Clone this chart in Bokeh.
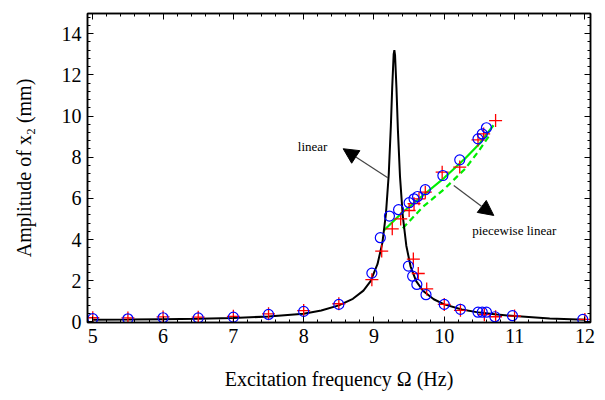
from bokeh.plotting import figure
from bokeh.models import Range1d, LinearAxis, SingleIntervalTicker, Arrow, NormalHead, Label
from bokeh.embed import file_html
from bokeh.resources import INLINE

# Linear model curve (black)
lin_x = [5.0, 5.5, 6.0, 6.5, 7.0, 7.5, 8.0, 8.25, 8.5, 8.7, 8.85, 8.95, 9.05, 9.12, 9.17,
         9.21, 9.24, 9.26, 9.28, 9.29, 9.30, 9.32, 9.34, 9.37, 9.41, 9.46, 9.52, 9.6, 9.7,
         9.85, 10.0, 10.25, 10.5, 10.75, 11.0, 11.5, 12.0]
lin_y = [0.10, 0.11, 0.13, 0.15, 0.19, 0.26, 0.40, 0.55, 0.80, 1.12, 1.52, 1.97, 2.80, 3.85, 5.25,
         7.16, 9.50, 11.45, 13.0, 13.2, 12.94, 11.35, 9.35, 7.07, 5.14, 3.70, 2.70, 1.98, 1.50,
         1.10, 0.85, 0.60, 0.45, 0.36, 0.28, 0.17, 0.10]

# Piecewise linear model, solid branch (green)
pw_solid_x = [9.14, 9.4, 9.7, 10.0, 10.3, 10.5, 10.7]
pw_solid_y = [4.44, 5.30, 6.15, 7.00, 7.95, 8.65, 9.55]

# Piecewise linear model, dashed branch (green)
pw_dash_x = [9.41, 9.7, 10.0, 10.3, 10.5, 10.63]
pw_dash_y = [4.55, 5.60, 6.45, 7.45, 8.35, 9.00]

# Measured data (blue circles)
circ_x = [5.0, 5.5, 6.0, 6.5, 7.0, 7.5, 8.0, 8.5, 8.97, 9.09, 9.22, 9.35, 9.5, 9.57, 9.62,
          9.73, 9.98, 10.22, 10.48, 10.54, 10.6,
          9.49, 9.55, 9.61, 9.74, 10.0, 10.23, 10.48, 10.54, 10.6, 10.72, 10.97, 11.97]
circ_y = [0.16, 0.15, 0.20, 0.19, 0.23, 0.36, 0.51, 0.85, 2.37, 4.09, 5.14, 5.45, 5.79, 5.98, 6.09,
          6.42, 7.11, 7.87, 8.89, 9.13, 9.43,
          2.71, 2.22, 1.82, 1.32, 0.85, 0.61, 0.47, 0.47, 0.47, 0.25, 0.30, 0.12]

# Measured data (red crosses)
cross_x = [5.0, 5.5, 6.0, 6.5, 7.0, 7.5, 8.0, 8.5, 8.97, 9.11, 9.26, 9.38, 9.5, 9.57, 9.64,
           9.73, 9.97, 10.22, 10.48, 10.56, 10.73,
           9.56, 9.63, 9.75, 10.0, 10.23, 10.57, 10.73, 11.0, 12.0]
cross_y = [0.20, 0.19, 0.24, 0.23, 0.27, 0.39, 0.55, 0.88, 2.05, 3.44, 4.52, 5.00, 5.41, 5.74, 5.98,
           6.30, 7.27, 7.52, 8.84, 9.13, 9.78,
           3.05, 2.35, 1.60, 0.85, 0.56, 0.35, 0.25, 0.28, 0.12]

x_ticks_interval = 1
y_ticks_interval = 2

FONT = "Liberation Serif"

p = figure(width=605, height=400, output_backend="svg", toolbar_location=None,
           x_range=Range1d(4.925, 12.08), y_range=Range1d(-0.03, 14.98),
           min_border_left=87, min_border_right=15, min_border_top=13, min_border_bottom=78)
p.grid.visible = False
p.outline_line_color = "black"
p.outline_line_width = 1.5
p.background_fill_color = "white"
p.border_fill_color = "white"

xt = SingleIntervalTicker(interval=x_ticks_interval, num_minor_ticks=5)
yt = SingleIntervalTicker(interval=y_ticks_interval, num_minor_ticks=5)


def style_axis(ax, labels=True):
    ax.axis_line_color = "black"
    ax.axis_line_width = 1.5
    ax.major_tick_in = 6
    ax.major_tick_out = 0
    ax.minor_tick_in = 3
    ax.minor_tick_out = 0
    ax.major_tick_line_color = "black"
    ax.minor_tick_line_color = "black"
    ax.major_label_text_font = FONT
    if labels:
        ax.major_label_text_color = "black"
        ax.major_label_text_font_size = "20px"
    else:
        ax.major_label_text_color = None
        ax.major_label_text_font_size = "0px"
        ax.major_label_standoff = 0


xa = p.xaxis[0]
xa.ticker = xt
style_axis(xa)
xa.major_label_standoff = 6
xa.axis_label = "Excitation frequency Ω (Hz)"
xa.axis_label_text_font = FONT
xa.axis_label_text_font_size = "20px"
xa.axis_label_text_font_style = "normal"
xa.axis_label_text_color = "black"
xa.axis_label_standoff = 22

ya = p.yaxis[0]
ya.ticker = yt
style_axis(ya)
ya.major_label_standoff = 6
ya.axis_label = "Amplitude of x₂ (mm)"
ya.axis_label_text_font = FONT
ya.axis_label_text_font_size = "20px"
ya.axis_label_text_font_style = "normal"
ya.axis_label_text_color = "black"
ya.axis_label_standoff = 24

top = LinearAxis(ticker=SingleIntervalTicker(interval=x_ticks_interval, num_minor_ticks=5))
style_axis(top, labels=False)
p.add_layout(top, "above")
right = LinearAxis(ticker=SingleIntervalTicker(interval=y_ticks_interval, num_minor_ticks=5))
style_axis(right, labels=False)
p.add_layout(right, "right")

p.line(pw_solid_x, pw_solid_y, line_color="#00ee00", line_width=2.2)
p.line(pw_dash_x, pw_dash_y, line_color="#00ee00", line_width=2.2, line_dash="6 4")
p.line(lin_x, lin_y, line_color="black", line_width=2)
p.scatter(cross_x, cross_y, marker="cross", size=13, line_color="red", line_width=1.3)
p.scatter(circ_x, circ_y, marker="circle", size=10, fill_color=None, line_color="blue", line_width=1.2)

p.add_layout(Arrow(end=NormalHead(size=15, fill_color="black", line_color="black"),
                   x_start=9.196, y_start=7.0, x_end=8.562, y_end=8.41,
                   line_color="#444444", line_width=1.2))
p.add_layout(Arrow(end=NormalHead(size=15, fill_color="black", line_color="black"),
                   x_start=10.135, y_start=6.63, x_end=10.704, y_end=5.17,
                   line_color="#444444", line_width=1.2))

p.add_layout(Label(x=7.916, y=8.53, text="linear", text_font=FONT, text_font_size="13px",
                   text_baseline="middle", text_color="black"))
p.add_layout(Label(x=10.397, y=4.44, text="piecewise linear", text_font=FONT, text_font_size="13px",
                   text_baseline="middle", text_color="black"))

open("out.html", "w").write(file_html(p, INLINE))
